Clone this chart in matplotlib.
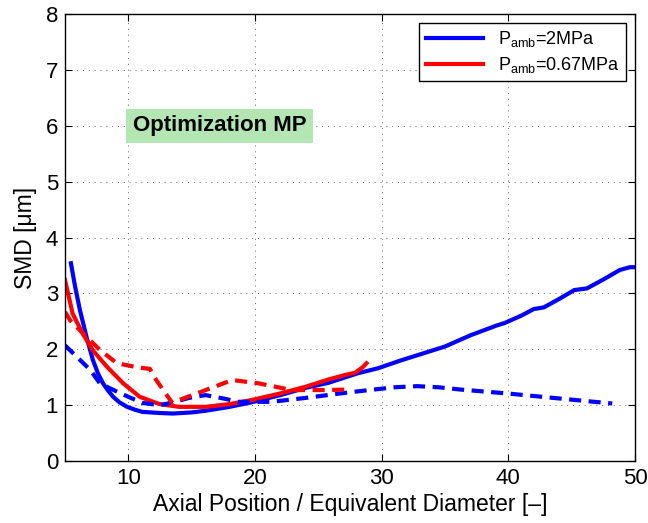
import matplotlib
matplotlib.use('Agg')
import matplotlib.pyplot as plt
import numpy as np

plt.rcParams['font.family'] = ['Liberation Sans', 'DejaVu Sans']

# P_amb = 2 MPa, solid
x_b_solid = [5.47, 5.8, 6.18, 6.7, 7.2, 7.6, 8.0, 8.4, 8.8, 9.3, 9.9, 10.5, 11.1, 12.45, 13.5, 15.0, 16.1, 18.0, 19.7,
             22.0, 24.0, 25.8, 28.1, 29.7, 31.5, 33.6, 35.0, 37.0, 39.0, 39.7, 41.0, 42.0, 42.8, 44.0, 45.2, 46.2,
             47.5, 48.8, 49.6, 50.0]
y_b_solid = [3.54, 3.12, 2.70, 2.22, 1.81, 1.57, 1.39, 1.26, 1.15, 1.05, 0.97, 0.92, 0.88, 0.86, 0.85, 0.87, 0.9, 0.97, 1.05,
             1.18, 1.31, 1.4, 1.57, 1.66, 1.8, 1.95, 2.05, 2.25, 2.42, 2.47, 2.6, 2.72, 2.75, 2.9, 3.06, 3.09,
             3.25, 3.42, 3.47, 3.47]

# P_amb = 2 MPa, dashed
x_b_dash = [5.0, 7.0, 7.75, 9.3, 11.1, 12.5, 13.5, 14.8, 16.1, 17.5, 18.7, 21.3, 24.0, 27.1,
            29.0, 31.0, 32.8, 34.5, 36.2, 39.9, 44.0, 47.7, 48.2]
y_b_dash = [2.07, 1.63, 1.39, 1.22, 1.04, 1.0, 1.05, 1.13, 1.18, 1.12, 1.06, 1.06, 1.13, 1.22,
            1.27, 1.32, 1.34, 1.32, 1.28, 1.21, 1.12, 1.04, 1.03]

# P_amb = 0.67 MPa, solid
x_r_solid = [5.0, 5.6, 6.4, 7.2, 8.3, 9.6, 10.9, 12.45, 14.0, 16.1, 18.0, 19.7, 22.0, 24.0,
             25.8, 27.1, 27.9, 28.5, 28.8]
y_r_solid = [3.24, 2.64, 2.28, 1.98, 1.69, 1.39, 1.15, 1.02, 0.97, 0.97, 1.02, 1.09, 1.21, 1.33,
             1.46, 1.54, 1.58, 1.68, 1.75]

# P_amb = 0.67 MPa, dashed
x_r_dash = [5.0, 5.4, 6.4, 7.75, 9.1, 10.9, 11.7, 12.2, 13.5, 14.0, 16.1, 18.2, 20.3, 22.9, 25.5, 27.5]
y_r_dash = [2.67, 2.52, 2.29, 1.99, 1.75, 1.67, 1.65, 1.45, 1.03, 1.09, 1.27, 1.45, 1.39, 1.27, 1.27, 1.28]

fig = plt.figure(figsize=(6.48, 5.23), dpi=100)
ax = fig.add_axes([0.1003, 0.1185, 0.8797, 0.8545])

lw = 3.0
dash = (0, (2.9, 1.8))
ax.plot(x_b_solid, y_b_solid, color='blue', linewidth=lw, label=r'P$_{\mathregular{amb}}$=2MPa')
ax.plot(x_r_solid, y_r_solid, color='red', linewidth=lw, label=r'P$_{\mathregular{amb}}$=0.67MPa')
ax.plot(x_b_dash, y_b_dash, color='blue', linewidth=lw, linestyle=dash)
ax.plot(x_r_dash, y_r_dash, color='red', linewidth=lw, linestyle=dash)

ax.set_xlim(5, 50)
ax.set_ylim(0, 8)
ax.set_xticks([10, 20, 30, 40, 50])
ax.set_yticks(range(0, 9))
ax.grid(True, color='black', linestyle=(0, (1, 5)), linewidth=0.7, alpha=0.6)
ax.tick_params(direction='in', top=True, right=True, labelsize=16, length=5, pad=5)
for s in ax.spines.values():
    s.set_linewidth(1.0)

ax.set_xlabel('Axial Position / Equivalent Diameter [\u2013]', fontsize=16.5, labelpad=3)
ax.set_ylabel('SMD [\u03bcm]', fontsize=16.5, labelpad=6)

ax.text(17.2, 6.0, 'Optimization MP', fontsize=16, fontweight='bold', ha='center', va='center',
        bbox=dict(boxstyle='square,pad=0.3', facecolor='#b3e6b3', edgecolor='none'))

leg = ax.legend(loc='upper right', fontsize=13, fancybox=False, framealpha=1,
                edgecolor='black', handlelength=3.2, borderaxespad=0.5,
                labelspacing=0.3, borderpad=0.35)
leg.get_frame().set_linewidth(1.0)

fig.savefig('out.png', dpi=100)
